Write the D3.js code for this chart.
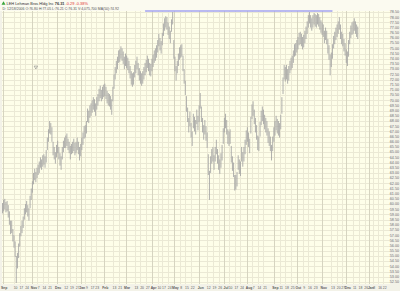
<!DOCTYPE html>
<html>
<head>
<meta charset="utf-8">
<script src="https://cdn.jsdelivr.net/npm/d3@7"></script>
<style>
  body { margin: 0; background: #fff; }
  svg { display: block; font-family: "Liberation Sans", Arial, sans-serif; }
</style>
</head>
<body>
<div id="chart"></div>
<script>
var width = 400;
var height = 291;

// LEH daily bars, Sep 26 2005 .. Dec 2006 (split adjusted)
var firstDay = "2005-09-26";
var lastDay = "2007-01-26";
var holidays = ["2005-11-24", "2005-12-26", "2006-01-02", "2006-01-16", "2006-02-20", "2006-04-14",
  "2006-05-29", "2006-07-04", "2006-09-04", "2006-11-23", "2006-12-25", "2007-01-01", "2007-01-02", "2007-01-15"];

var hi = [
  60.1, 60.4, 60.5, 60.2, 60.3, 59.9, 59.3, 58.4, 58.4, 57.6,
  57.0, 56.4, 55.0, 55.3, 56.2, 57.2, 57.9, 58.4, 58.8, 59.6,
  60.0, 60.3, 59.9, 59.6, 60.8, 61.5, 62.2, 63.0, 63.4, 63.1,
  63.5, 63.8, 64.1, 64.5, 64.3, 64.7, 64.8, 64.6, 65.2, 66.4,
  67.2, 68.0, 67.8, 67.4, 66.0, 65.5, 65.0, 65.7, 66.1, 65.5,
  64.9, 64.6, 65.5, 66.1, 66.4, 66.6, 66.8, 66.3, 66.0, 65.6,
  65.8, 66.0, 66.3, 65.9, 66.0, 66.4, 66.0, 65.5, 65.8, 66.4,
  66.9, 67.5, 67.6, 68.0, 69.2, 69.0, 69.5, 69.7, 70.0, 70.3,
  70.1, 69.7, 70.3, 70.6, 71.1, 71.4, 71.0, 71.3, 71.5, 71.6,
  71.3, 70.9, 70.7, 70.6, 70.4, 70.1, 71.3, 72.5, 73.2, 73.8,
  74.2, 74.8, 74.9, 75.2, 75.0, 74.7, 74.2, 74.5, 74.3, 74.1,
  73.8, 73.3, 72.8, 72.6, 72.7, 73.4, 73.8, 74.2, 73.6, 73.1,
  72.8, 72.6, 72.8, 73.2, 73.6, 73.9, 74.3, 74.0, 73.6, 73.5,
  74.0, 74.4, 74.8, 75.0, 75.3, 75.8, 76.4, 76.0, 75.7, 76.5,
  77.4, 77.9, 78.1, 78.0, 77.5, 77.1, 76.7, 77.8, 78.5, 75.8,
  74.2, 73.3, 73.8, 74.5, 75.1, 75.3, 75.4, 74.3, 73.0, 71.9,
  70.4, 69.3, 68.3, 68.9, 67.8, 67.0, 68.7, 68.4, 68.1, 69.1,
  68.5, 69.5, 70.7, 69.4, 68.3, 67.6, 68.1, 67.5, 66.9, 64.8,
  63.2, 64.6, 65.3, 65.5, 64.7, 65.5, 66.2, 65.3, 64.7, 64.3,
  64.9, 65.7, 67.3, 68.3, 68.7, 68.1, 67.2, 67.0, 67.2, 65.6,
  64.6, 64.0, 62.8, 62.8, 63.1, 64.7, 64.3, 64.1, 65.5, 65.0,
  65.5, 66.2, 67.1, 67.4, 66.9, 66.3, 68.4, 69.6, 69.9, 69.1,
  68.3, 67.6, 66.6, 66.5, 67.9, 69.0, 69.4, 69.1, 68.6, 68.3,
  68.0, 67.3, 67.0, 66.5, 65.7, 66.5, 67.4, 68.0, 68.5, 68.2,
  68.0, 67.8, 68.6, 70.3, 72.2, 73.4, 73.2, 73.4, 73.0, 73.3,
  73.8, 74.1, 74.3, 74.8, 75.4, 75.5, 75.8, 76.1, 76.5, 76.6,
  76.4, 76.1, 76.3, 76.7, 77.1, 77.6, 78.2, 78.5, 78.2, 77.9,
  78.2, 78.4, 78.3, 78.2, 78.4, 78.3, 78.0, 77.7, 77.5, 77.3,
  76.7, 77.0, 76.7, 75.9, 75.3, 74.4, 74.6, 75.4, 76.2, 76.6,
  77.0, 77.3, 77.6, 78.0, 77.3, 76.6, 76.4, 75.9, 75.5, 74.9,
  74.7, 75.8, 76.6, 77.2, 77.5, 77.6, 77.9, 77.6, 77.3, 77.1
];

var lo = [
  59.1, 59.3, 59.5, 59.2, 59.3, 58.7, 58.0, 57.1, 57.2, 56.4,
  55.8, 54.9, 52.4, 53.8, 54.8, 55.9, 56.9, 57.2, 57.7, 58.5,
  59.0, 59.2, 58.8, 58.4, 59.6, 60.4, 61.1, 61.9, 62.3, 62.1,
  62.5, 62.8, 63.0, 63.5, 63.3, 63.6, 63.8, 63.5, 64.0, 65.2,
  66.0, 66.8, 66.7, 66.0, 64.7, 64.3, 63.9, 64.5, 64.9, 64.3,
  63.7, 63.3, 64.3, 65.0, 65.4, 65.4, 65.6, 65.2, 64.9, 64.3,
  64.8, 64.9, 65.1, 64.7, 64.9, 65.2, 64.8, 64.2, 64.6, 65.2,
  65.7, 66.3, 66.4, 66.8, 67.9, 67.8, 68.3, 68.5, 68.8, 69.1,
  68.9, 68.5, 69.1, 69.5, 69.9, 70.2, 69.9, 70.1, 70.3, 70.4,
  70.1, 69.7, 69.5, 69.4, 69.1, 68.6, 69.9, 71.1, 72.0, 72.6,
  73.0, 73.6, 73.7, 74.0, 73.8, 73.5, 73.0, 73.3, 73.1, 72.9,
  72.6, 72.1, 71.5, 71.3, 71.5, 72.2, 72.6, 73.0, 72.4, 71.9,
  71.6, 71.4, 71.6, 72.0, 72.4, 72.7, 73.1, 72.8, 72.4, 72.3,
  72.8, 73.2, 73.6, 73.8, 74.1, 74.6, 75.2, 74.8, 74.5, 75.3,
  76.2, 76.7, 77.0, 76.8, 76.3, 75.9, 75.5, 76.6, 77.3, 74.0,
  72.8, 71.9, 72.6, 73.3, 73.9, 74.1, 74.2, 72.8, 71.6, 70.5,
  68.9, 67.9, 66.9, 67.5, 66.4, 65.6, 67.3, 67.0, 66.7, 67.7,
  67.1, 67.9, 69.2, 67.9, 66.9, 66.2, 66.7, 66.1, 65.4, 62.8,
  60.4, 63.0, 63.9, 64.1, 63.3, 64.1, 64.8, 63.9, 63.3, 62.9,
  63.5, 64.2, 65.8, 66.9, 67.3, 66.7, 65.8, 65.6, 65.8, 64.0,
  63.2, 62.6, 61.3, 61.4, 61.7, 63.3, 62.9, 62.7, 64.1, 63.6,
  64.1, 64.8, 65.7, 66.0, 65.5, 64.9, 66.8, 68.2, 68.5, 67.7,
  66.9, 66.2, 65.2, 65.1, 66.5, 67.6, 68.0, 67.7, 67.2, 66.9,
  66.6, 65.9, 65.6, 65.1, 64.2, 65.1, 66.0, 66.6, 67.1, 66.8,
  66.6, 66.4, 67.2, 68.7, 70.6, 72.0, 71.8, 72.0, 71.6, 71.9,
  72.6, 72.9, 73.1, 73.6, 74.2, 74.3, 74.6, 74.9, 75.3, 75.4,
  75.2, 74.9, 75.1, 75.5, 75.9, 76.4, 77.0, 77.4, 77.0, 76.7,
  77.0, 77.3, 77.1, 77.0, 77.3, 77.1, 76.8, 76.5, 76.3, 76.1,
  75.5, 75.8, 75.4, 74.5, 73.9, 72.4, 73.2, 74.0, 75.0, 75.4,
  75.8, 76.1, 76.4, 76.8, 75.9, 75.4, 75.2, 74.7, 74.3, 73.6,
  73.3, 74.2, 75.4, 76.0, 76.3, 76.4, 76.7, 76.4, 76.1, 75.9
];

// date, label, month start?
var xTicks = [
  ["2005-09-26", "Sep", 1], ["2005-10-10", "10", 0], ["2005-10-17", "17", 0], ["2005-10-24", "24", 0],
  ["2005-11-01", "Nov", 1], ["2005-11-07", "7", 0], ["2005-11-14", "14", 0], ["2005-11-21", "21", 0],
  ["2005-12-01", "Dec", 1], ["2005-12-12", "12", 0], ["2005-12-19", "19", 0], ["2005-12-27", "27", 0],
  ["2006-01-03", "Jan", 1], ["2006-01-09", "9", 0], ["2006-01-17", "17", 0], ["2006-01-23", "23", 0],
  ["2006-02-01", "Feb", 1], ["2006-02-13", "13", 0], ["2006-02-21", "21", 0],
  ["2006-03-01", "Mar", 1], ["2006-03-13", "13", 0], ["2006-03-20", "20", 0], ["2006-03-27", "27", 0],
  ["2006-04-03", "Apr", 1], ["2006-04-10", "10", 0], ["2006-04-17", "17", 0], ["2006-04-24", "24", 0],
  ["2006-05-01", "May", 1], ["2006-05-08", "8", 0], ["2006-05-15", "15", 0], ["2006-05-22", "22", 0],
  ["2006-06-01", "Jun", 1], ["2006-06-12", "12", 0], ["2006-06-19", "19", 0], ["2006-06-26", "26", 0],
  ["2006-07-03", "Jul", 1], ["2006-07-10", "10", 0], ["2006-07-17", "17", 0], ["2006-07-24", "24", 0],
  ["2006-08-01", "Aug", 1], ["2006-08-07", "7", 0], ["2006-08-14", "14", 0], ["2006-08-21", "21", 0],
  ["2006-09-01", "Sep", 1], ["2006-09-11", "11", 0], ["2006-09-18", "18", 0], ["2006-09-25", "25", 0],
  ["2006-10-02", "Oct", 1], ["2006-10-09", "9", 0], ["2006-10-16", "16", 0], ["2006-10-23", "23", 0],
  ["2006-11-01", "Nov", 1], ["2006-11-13", "13", 0], ["2006-11-20", "20", 0], ["2006-11-27", "27", 0],
  ["2006-12-01", "Dec", 1], ["2006-12-11", "11", 0], ["2006-12-18", "18", 0], ["2006-12-26", "26", 0],
  ["2007-01-03", "Jan", 1], ["2007-01-08", "8", 0], ["2007-01-16", "16", 0], ["2007-01-22", "22", 0]
];

var yMin = 52.5, yMax = 78.5, yStep = 0.5;
var resistance = { from: "2006-03-24", to: "2006-11-14", price: 78.6 };
var marker = { date: "2005-11-04", price: 73.2 };

var title = "LEH Lehman Bros Hldg Inc";
var lastPrice = "76.31", change = "-0.29", changePct = "-0.38%";
var subtitle = "D: 12/18/2006 O:76.80 H:77.05 L:76.21 C:76.31 V:4,075,700 MA(50):74.92";

var plot = { left: 2, right: 390, top: 11, bottom: 284 };

var parse = d3.utcParse("%Y-%m-%d"), fmt = d3.utcFormat("%Y-%m-%d");
var days = d3.utcDay.range(parse(firstDay), parse(lastDay))
  .filter(function(d) { return d.getUTCDay() % 6 !== 0 && holidays.indexOf(fmt(d)) < 0; });
var dayIndex = new Map(days.map(function(d, i) { return [fmt(d), i]; }));

var x = d3.scaleLinear().domain([0, days.length - 1]).range([2.5, 2.5 + (days.length - 1) * 1.1497]);
var y = d3.scaleLinear().domain([52.3, 78.6]).range([plot.bottom, plot.top]);

var yTicks = d3.range(yMin, yMax + yStep / 2, yStep);

var svg = d3.select("#chart").append("svg")
  .attr("width", width)
  .attr("height", height);

svg.append("rect").attr("width", width).attr("height", height).attr("fill", "#f3f2e8");
svg.append("rect").attr("x", 0).attr("y", 0).attr("width", width).attr("height", plot.top)
  .attr("fill", "#fbfaf0");

svg.append("rect")
  .attr("x", plot.left).attr("y", plot.top)
  .attr("width", plot.right - plot.left).attr("height", plot.bottom - plot.top)
  .attr("fill", "#fefee9");

var grid = svg.append("g").attr("shape-rendering", "crispEdges");

grid.selectAll("line.h")
  .data(yTicks)
  .enter().append("line")
  .attr("class", "h")
  .attr("x1", plot.left).attr("x2", plot.right)
  .attr("y1", function(d) { return Math.round(y(d)) + 0.5; })
  .attr("y2", function(d) { return Math.round(y(d)) + 0.5; })
  .attr("stroke", "#ebe9d5");

grid.selectAll("line.v")
  .data(xTicks)
  .enter().append("line")
  .attr("class", "v")
  .attr("x1", function(d) { return Math.round(x(dayIndex.get(d[0]))) + 0.5; })
  .attr("x2", function(d) { return Math.round(x(dayIndex.get(d[0]))) + 0.5; })
  .attr("y1", plot.top).attr("y2", plot.bottom)
  .attr("stroke", function(d) { return d[2] ? "#d6d4c0" : "#ebe9d5"; });

// y labels
svg.append("g").selectAll("text")
  .data(yTicks)
  .enter().append("text")
  .attr("x", 399)
  .attr("y", function(d) { return y(d) + 1.3; })
  .attr("text-anchor", "end")
  .attr("font-size", 3.7)
  .attr("fill", "#6b6b6b")
  .text(function(d) { return d.toFixed(2); });

// x labels
svg.append("g").selectAll("text")
  .data(xTicks)
  .enter().append("text")
  .attr("x", function(d) { return x(dayIndex.get(d[0])) + 1.6; })
  .attr("y", 289)
  .attr("text-anchor", "middle")
  .attr("font-size", 3.4)
  .attr("font-weight", function(d) { return d[2] ? "bold" : "normal"; })
  .attr("fill", "#5a5a5a")
  .text(function(d) { return d[1]; });

// bars
var bars = hi.map(function(h, i) { return { i: i, hi: h, lo: lo[i] }; });

svg.append("g").selectAll("line")
  .data(bars)
  .enter().append("line")
  .attr("x1", function(d) { return x(d.i); })
  .attr("x2", function(d) { return x(d.i); })
  .attr("y1", function(d) { return y(d.hi); })
  .attr("y2", function(d) { return y(d.lo); })
  .attr("stroke", "#a2a2a2")
  .attr("stroke-width", 0.85);

// resistance line
svg.append("line")
  .attr("x1", x(dayIndex.get(resistance.from)))
  .attr("x2", x(dayIndex.get(resistance.to)))
  .attr("y1", y(resistance.price))
  .attr("y2", y(resistance.price))
  .attr("stroke", "#a3a3f2")
  .attr("stroke-width", 1.6);

// small event marker
svg.append("path")
  .attr("d", d3.symbol().type(d3.symbolTriangle).size(5))
  .attr("transform", "translate(" + x(dayIndex.get(marker.date)) + "," + y(marker.price) + ") rotate(180)")
  .attr("fill", "none")
  .attr("stroke", "#888")
  .attr("stroke-width", 0.6);

// header
svg.append("path")
  .attr("d", d3.symbol().type(d3.symbolTriangle).size(7))
  .attr("transform", "translate(3.5,3.6)")
  .attr("fill", "#3aa53a");

var head = svg.append("text").attr("x", 6.5).attr("y", 5).attr("font-size", 3.9).attr("fill", "#333");
head.append("tspan").text(title + "  ");
head.append("tspan").attr("font-weight", "bold").text(lastPrice + "  ");
head.append("tspan").attr("fill", "#e03030").text(change + "  " + changePct);

svg.append("text")
  .attr("x", 2.5).attr("y", 9.6)
  .attr("font-size", 3.5)
  .attr("fill", "#555")
  .text(subtitle);
</script>
</body>
</html>
